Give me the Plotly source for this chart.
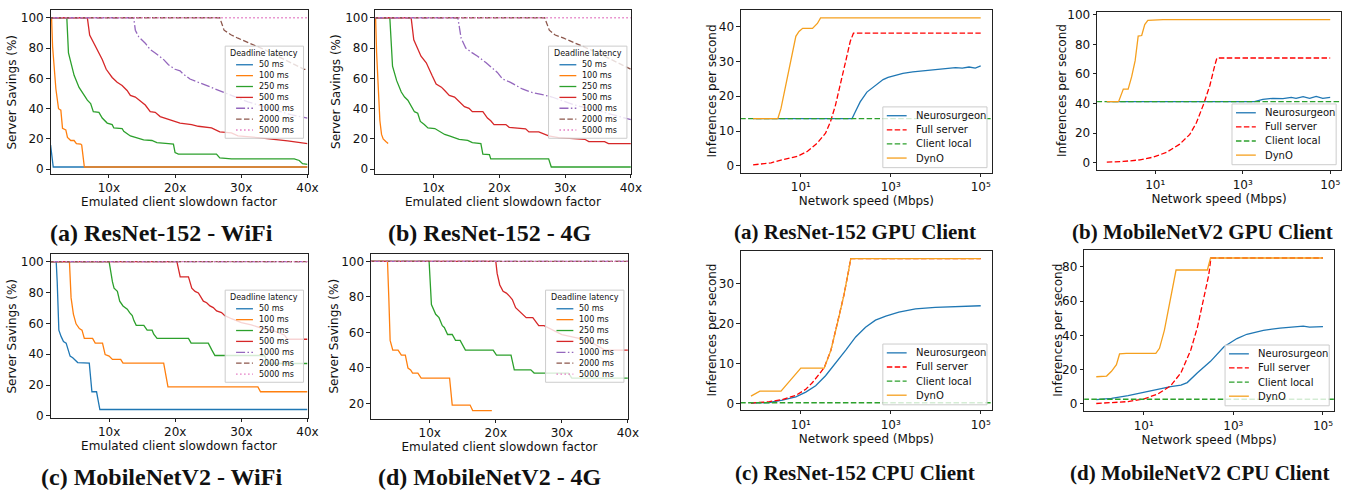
import plotly.graph_objects as go

W, H = 1366, 499

# ---------------- Data: server savings (%) vs emulated client slowdown factor ----------------
DEADLINES = ["50 ms", "100 ms", "250 ms", "500 ms", "1000 ms", "2000 ms", "5000 ms"]

# ResNet-152 - WiFi
rw_50 = [(1.2, 16), (1.6, 1.5), (40, 1.5)]
rw_100 = [(1.0, 100), (1.35, 100), (1.5, 81), (1.75, 66), (2.0, 53), (2.4, 40), (2.75, 39), (3.0, 27),
          (3.5, 26), (3.75, 21), (4.25, 19), (4.75, 19), (5.1, 17), (5.75, 16.6), (5.9, 16), (6.3, 1.5), (40, 1.5)]
rw_250 = [(1, 100), (3.65, 100), (3.9, 76.8), (4.25, 70), (4.75, 62), (5.5, 54), (6.25, 49), (6.75, 45.6),
          (7.25, 43.4), (7.65, 38), (8.5, 37.6), (9, 33.8), (9.75, 30.5), (10.5, 29.5), (10.75, 27.3), (12, 26.9),
          (12.25, 25), (12.75, 23.4), (13.25, 22), (14.5, 20.4), (15.25, 19.4), (16.5, 19), (17.25, 17.6),
          (19, 17), (19.75, 16.6), (20, 11), (20.5, 10), (26.25, 10), (26.75, 7.5), (28.5, 6.9), (38, 6.9),
          (38.75, 5.8), (39.25, 3.7), (40, 3.2)]
rw_500 = [(1, 100), (6.75, 100), (7.1, 88.6), (7.5, 85.4), (8.25, 79), (9, 72.5), (9.6, 66), (10.5, 60.6),
          (11.25, 57.4), (12, 55.3), (12.75, 52), (13.25, 48.8), (14, 47.7), (14.75, 45), (15.5, 42.4),
          (16.25, 38), (17, 37.6), (17.75, 34.8), (18.5, 33.8), (19.25, 32.7), (20.75, 30.5), (22.5, 29.5),
          (23.5, 28.4), (25.5, 27.3), (26.75, 24.7), (28.5, 24), (29.5, 22), (32.5, 20.9), (35, 19.8),
          (37, 18.7), (40, 17)]
rw_1000 = [(1, 100), (13.75, 100), (14, 91.8), (14.5, 87.5), (15.5, 83.2), (16.25, 79), (17, 76.8),
           (18.25, 72.5), (19, 69), (20, 66), (20.75, 65), (21.25, 62.8), (22.25, 59.6), (23.5, 57.4),
           (24.75, 55.3), (26, 52.7), (27, 51), (28.5, 48.8), (31, 44.5), (34.5, 40), (37.5, 36), (40, 33.8)]
rw_2000 = [(1, 100), (26.75, 100), (27.4, 91.8), (28.5, 88.6), (29.5, 86.5), (30.75, 84.3), (32, 82),
           (33.5, 79), (35.5, 74.6), (37.5, 70.3), (39.5, 66), (40, 66)]
rw_5000 = [(1, 100), (40, 100)]

# ResNet-152 - 4G
r4_50 = []
r4_100 = [(1.0, 100), (1.2, 100), (1.35, 77), (1.6, 49), (1.85, 32), (2.1, 23), (2.35, 20), (2.75, 18.3), (3.1, 17)]
r4_250 = [(1, 100), (3.36, 100), (3.77, 68), (4.4, 58.5), (5.1, 51), (5.6, 47.7), (6.1, 45.6), (6.6, 41.3),
          (7.1, 38), (7.6, 37), (8, 31.6), (8.6, 29.5), (9.15, 27.3), (10.2, 26.9), (10.9, 25.2), (11.7, 23),
          (12.4, 22), (13.2, 20.9), (13.9, 19.8), (15.2, 19.1), (15.9, 17.6), (17.2, 17), (17.5, 10),
          (18.5, 9.7), (18.7, 6.9), (27.5, 6.9), (27.9, 1.5), (40, 1.5)]
r4_500 = [(1, 100), (6.6, 100), (7, 85.4), (7.6, 79), (8.1, 74.6), (8.9, 70.3), (9.4, 66), (9.8, 61.7),
          (10.4, 56.3), (11.2, 54.2), (11.7, 52), (12.4, 48.8), (13.2, 47.7), (13.7, 45.6), (14.7, 41.3),
          (15.4, 40.2), (15.9, 38), (17.5, 38), (18.2, 33.8), (18.7, 32), (19.2, 29.5), (21, 29.5), (21.5, 27.7),
          (24, 26.7), (24.5, 24.7), (26, 24.7), (27.5, 22), (29, 20.9), (33, 19.8), (33.6, 18.3), (36, 18.3),
          (36.6, 17), (40, 17)]
r4_1000 = [(1, 100), (13.7, 100), (14.2, 86.5), (14.9, 80), (15.9, 76.8), (16.7, 74.6), (18, 70.3), (19.2, 66),
           (19.7, 63.9), (20.5, 59.6), (21.7, 57.4), (23.5, 53), (24.7, 51), (27, 48.8), (28, 47.7),
           (31.5, 42.4), (35.6, 38), (40, 32.7)]
r4_2000 = [(1, 100), (26.9, 100), (27.6, 91.8), (28.5, 88.6), (29.8, 86.5), (31, 84.3), (32, 82), (35, 76.8),
           (38, 70.3), (40, 66)]
r4_5000 = [(1, 100), (40, 100)]

# MobileNetV2 - WiFi
mw_50 = [(1, 100), (2.0, 100), (2.15, 87), (2.3, 66), (2.4, 55.6), (2.75, 51.4), (3.1, 48.2), (3.5, 47.2),
         (3.75, 43), (4.1, 38.8), (4.5, 37.7), (4.75, 36.7), (5.25, 34.6), (7.0, 34.2), (7.4, 15.7), (8.1, 15.7),
         (8.6, 4.2), (40, 4.2)]
mw_100 = [(1, 100), (4.0, 100), (4.25, 76.5), (4.6, 66), (5, 59.7), (5.5, 56.6), (5.9, 55.6), (6.25, 50.3),
          (7.5, 50.3), (7.9, 47.2), (9, 47.2), (9.4, 39.8), (10, 38.8), (10.5, 36.7), (11.75, 36.7), (12.1, 34.2),
          (18.25, 34.2), (18.9, 18.9), (32.5, 18.9), (32.9, 15.7), (40, 15.7)]
mw_250 = [(1, 100), (10, 100), (10.5, 87), (10.75, 82.8), (11.25, 80.7), (11.6, 74.4), (12.1, 71.3),
          (12.75, 69.2), (13.1, 67), (13.5, 65), (13.75, 61.8), (14.1, 58.7), (15.25, 58.7), (15.75, 55.6),
          (16.5, 55.6), (16.75, 53), (17.25, 50.3), (22, 50.3), (22.4, 47.2), (25, 47.2), (25.5, 43), (26, 39.2),
          (33.5, 39.2), (34, 34), (40, 34)]
mw_500 = [(1, 100), (20.25, 100), (20.75, 90.1), (22, 90.1), (22.5, 82.8), (23, 80.7), (23.5, 79.7),
          (24.25, 74.4), (24.75, 73.4), (25.25, 71.3), (25.75, 70.2), (26.25, 68.1), (27, 67), (27.5, 65),
          (28.5, 63), (30, 60.5), (31.5, 59), (33, 57), (35, 55), (36.5, 52.5), (37, 49.7), (40, 49.7)]
mw_1000 = [(1, 100), (40, 100)]
mw_2000 = [(1, 100), (40, 100)]
mw_5000 = [(1, 100), (40, 100)]

# MobileNetV2 - 4G
m4_50 = []
m4_100 = [(1, 100), (3.6, 100), (3.8, 79.4), (4.0, 55.5), (4.4, 50), (5.2, 50), (5.7, 47.2), (6.3, 47.2),
          (6.7, 39.9), (7.1, 38.9), (7.4, 37.1), (8.2, 37.1), (8.7, 34.3), (13.0, 34.3), (13.4, 19.1),
          (16.1, 19.1), (16.5, 16), (19.4, 16)]
m4_250 = [(1, 100), (9.9, 100), (10.25, 75.7), (10.9, 70.2), (11.4, 68.3), (11.9, 63.8), (12.2, 62.8),
          (12.7, 58.8), (13.4, 58.8), (13.9, 55.5), (14.6, 55.5), (15.4, 50), (19.6, 50), (20.1, 47.2),
          (22.3, 47.2), (22.8, 38.9), (25.3, 38.9), (25.8, 37.1), (31, 37.1), (31.5, 34.3), (40, 34.3)]
m4_500 = [(1, 100), (20, 100), (20.2, 93.2), (20.6, 86.7), (21.1, 83.1), (21.6, 82.1), (22.1, 80.3),
          (22.5, 78.5), (23, 73.9), (23.6, 72), (24.1, 70.2), (24.6, 68.3), (25.6, 68.3), (26.1, 65.6),
          (26.5, 63.8), (27.3, 63.8), (30, 58.8), (34, 55.5), (36.5, 50), (40, 50)]
m4_1000 = [(1, 100), (40, 100)]
m4_2000 = [(1, 100), (40, 100)]
m4_5000 = [(1, 100), (40, 100)]

SLOW_TICKS = [10, 20, 30, 40]
SLOW_TICKTEXT = ["10x", "20x", "30x", "40x"]

# ---------------- Data: inferences per second vs network speed (Mbps) ----------------
METHODS = ["Neurosurgeon", "Full server", "Client local", "DynO"]
NET_SPAN = [0.3, 300000]  # horizontal extent of the constant "Client local" reference

# ResNet-152 GPU client
rg_neuro = [(0.87, 13.6), (138, 13.6), (162, 15.5), (209, 18.4), (295, 21.2), (447, 23.1), (676, 24.8),
            (871, 25.4), (1318, 26.1), (1862, 26.6), (3090, 27.0), (5129, 27.3), (10000, 27.8), (19953, 28.0),
            (27542, 28.2), (38905, 28.1), (54954, 28.4), (75858, 28.1), (100000, 28.7)]
rg_full = [(0.87, 0.3), (2.19, 0.9), (4.27, 1.9), (8.51, 2.8), (14.1, 4.2), (23.4, 6.6), (35.5, 9.4),
           (45.7, 12.7), (58.9, 17.4), (75.9, 23.1), (97.7, 29.6), (126, 35.8), (148, 38.1), (100000, 38.1)]
rg_local = 13.6
rg_dyno = [(0.87, 13.6), (3.09, 13.6), (3.63, 16.5), (4.68, 23.1), (6.03, 30.6), (7.76, 37.2), (9.12, 38.6),
           (11.0, 39.5), (18.2, 39.5), (23.4, 40.9), (27.5, 42.5), (100000, 42.5)]

# MobileNetV2 GPU client
mg_neuro = [(0.78, 41.3), (1862, 41.3), (2884, 42.9), (4898, 43.6), (8318, 43.4), (12882, 44.2), (16596, 43.6),
            (23988, 44.7), (33884, 43.6), (47863, 44.9), (67608, 43.6), (100000, 44.2)]
mg_full = [(0.78, 0.4), (1.86, 0.9), (4.47, 2.0), (8.91, 3.8), (18.2, 7.1), (36.3, 12.6), (61.7, 19.2),
           (87.1, 27), (126, 39.2), (178, 52.4), (229, 65.7), (257, 70.8), (100000, 70.8)]
mg_local = 41.3
mg_dyno = [(0.78, 41.3), (1.45, 41.3), (1.86, 49.8), (2.4, 49.8), (2.88, 58), (3.47, 69), (4.07, 85.6),
           (4.9, 86), (5.75, 93.4), (6.76, 96.2), (15.1, 96.7), (100000, 96.7)]

# ResNet-152 CPU client
rc_neuro = [(0.78, 0.16), (2.0, 0.3), (3.89, 0.9), (7.76, 1.7), (12.9, 2.9), (21.4, 4.5), (35.5, 7.0),
            (60.3, 10.2), (100, 13.4), (166, 16.7), (275, 19.1), (457, 20.9), (776, 21.9), (1514, 22.9),
            (3548, 23.7), (9772, 24.1), (27542, 24.3), (100000, 24.5)]
rc_full = [(0.78, 0.16), (2.0, 0.5), (3.89, 1.05), (7.76, 2.1), (12.9, 3.6), (18.2, 5.3), (25.7, 7.4),
           (33.1, 9.0), (46.8, 13.4), (64.6, 19.9), (91.2, 27.2), (117, 33.6), (129, 36.3), (100000, 36.3)]
rc_local = 0.24
rc_dyno = [(0.78, 1.9), (1.23, 3.15), (3.63, 3.15), (10, 8.9), (33.1, 8.9), (46.8, 13.4), (64.6, 19.9),
           (91.2, 27.2), (117, 33.6), (129, 36.3), (100000, 36.3)]

# MobileNetV2 CPU client
mc_neuro = [(0.87, 2.5), (1.9, 3.2), (4.47, 4.8), (10.2, 6.7), (20.4, 8.6), (39.8, 10.1), (67.6, 10.9),
            (93.3, 12.4), (158, 18.1), (309, 24.8), (617, 33.3), (1202, 38.1), (1995, 40.6), (4677, 42.9),
            (10965, 44.2), (25704, 44.8), (36308, 45.3), (50119, 44.8), (100000, 45.1)]
mc_full = [(0.87, 0.2), (1.9, 0.6), (4.47, 1.3), (10.2, 2.9), (20.4, 5.7), (39.8, 10.5), (67.6, 18.1),
           (112, 31.4), (158, 44.8), (219, 61.9), (282, 75.2), (316, 85.1), (100000, 85.1)]
mc_local = 2.67
mc_dyno = [(0.87, 15.8), (1.48, 16.2), (1.9, 19.0), (2.45, 22.9), (2.88, 29.1), (4.07, 29.5), (18.6, 29.5),
           (22.4, 32.4), (28.8, 42.9), (39.8, 61.9), (52.5, 78.1), (263, 78.1), (309, 85.1), (100000, 85.1)]

NET_TICKS = [10, 1000, 100000]
NET_TICKTEXT = ["10\u00b9", "10\u00b3", "10\u2075"]

# ---------------- Styles ----------------
DL_STYLE = [("#1f77b4", "solid"), ("#ff7f0e", "solid"), ("#2ca02c", "solid"), ("#d62728", "solid"),
            ("#9467bd", "9px,2.4px,1.5px,2.4px"), ("#8c564b", "5.5px,2.4px"), ("#e377c2", "1.5px,2.5px")]
M_STYLE = [("#1f77b4", "solid"), ("#ff0000", "5.5px,2.4px"), ("#2ca02c", "5.5px,2.4px"), ("#f5a01e", "solid")]

TICK_FONT = dict(family="DejaVu Sans", size=12, color="#111")
TITLE_FONT = dict(family="DejaVu Sans", size=12, color="#111")
CAP_FONT = "Liberation Serif"

# panel layout in pixels: (left, top, right, bottom); ytitle_x = centre of rotated y title
panels = [
    dict(box=(51, 6, 310, 173), kind="slow", series=[rw_50, rw_100, rw_250, rw_500, rw_1000, rw_2000, rw_5000],
         xr=[1.2, 40], yr=[-2.8, 105.2], yt=[0, 20, 40, 60, 80, 100], ytitle_x=12,
         cap="(a) ResNet-152 - WiFi", cap_xy=(163, 234)),
    dict(box=(378, 6, 636, 173), kind="slow", series=[r4_50, r4_100, r4_250, r4_500, r4_1000, r4_2000, r4_5000],
         xr=[1.1, 40], yr=[-2.8, 105.2], yt=[0, 20, 40, 60, 80, 100], ytitle_x=338,
         cap="(b) ResNet-152 - 4G", cap_xy=(494, 234)),
    dict(box=(51, 255, 310, 422), kind="slow", series=[mw_50, mw_100, mw_250, mw_500, mw_1000, mw_2000, mw_5000],
         xr=[1.15, 40], yr=[-1.0, 105.0], yt=[0, 20, 40, 60, 80, 100], ytitle_x=12,
         cap="(c) MobileNetV2 - WiFi", cap_xy=(163, 483)),
    dict(box=(374, 255, 633, 423), kind="slow", series=[m4_50, m4_100, m4_250, m4_500, m4_1000, m4_2000, m4_5000],
         xr=[1.1, 40], yr=[11.5, 104.2], yt=[20, 40, 60, 80, 100], ytitle_x=337,
         cap="(d) MobileNetV2 - 4G", cap_xy=(494, 483)),
    dict(box=(747, 6, 1000, 172), kind="net", series=[rg_neuro, rg_full, rg_local, rg_dyno],
         yr=[-1.9, 44.8], yt=[0, 10, 20, 30, 40], ytitle_x=718,
         cap="(a) ResNet-152 GPU Client", cap_xy=(862, 233)),
    dict(box=(1106, 8, 1352, 169), kind="net", series=[mg_neuro, mg_full, mg_local, mg_dyno],
         yr=[-4.6, 102], yt=[0, 20, 40, 60, 80, 100], ytitle_x=1070,
         cap="(b) MobileNetV2 GPU Client", cap_xy=(1212, 233)),
    dict(box=(747, 252, 1000, 414), kind="net", series=[rc_neuro, rc_full, rc_local, rc_dyno],
         yr=[-1.5, 38.2], yt=[0, 10, 20, 30], ytitle_x=718,
         cap="(c) ResNet-152 CPU Client", cap_xy=(862, 479)),
    dict(box=(1093, 251, 1345, 415), kind="net", series=[mc_neuro, mc_full, mc_local, mc_dyno],
         yr=[-4.0, 89.8], yt=[0, 20, 40, 60, 80], ytitle_x=1067,
         cap="(d) MobileNetV2 CPU Client", cap_xy=(1210, 479)),
]


def fx(p):
    return p / W


def fy(p):
    return 1 - p / H


fig = go.Figure()
layout = dict(width=W, height=H, autosize=False, margin=dict(l=0, r=0, t=0, b=0), paper_bgcolor="white",
              plot_bgcolor="white", showlegend=False)
shapes, annotations = [], []

for i, p in enumerate(panels):
    n = i + 1
    sx = "" if n == 1 else str(n)
    L, T, R, B = p["box"]
    axis_base = dict(showline=True, linecolor="#222", linewidth=1, mirror=True, ticks="outside",
                     ticklen=3.5, tickwidth=1, tickcolor="#222", showgrid=False, zeroline=False,
                     tickfont=TICK_FONT, title_font=TITLE_FONT)
    if p["kind"] == "slow":
        xa = dict(axis_base, domain=[fx(L), fx(R)], range=p["xr"], tickvals=SLOW_TICKS,
                  ticktext=SLOW_TICKTEXT, title=dict(text="Emulated client slowdown factor", standoff=3),
                  anchor="y" + sx)
        ytitle = "Server Savings (%)"
        for name, pts, (col, dash) in zip(DEADLINES, p["series"], DL_STYLE):
            fig.add_trace(go.Scatter(x=[a for a, _ in pts], y=[b for _, b in pts], mode="lines", name=name,
                                     line=dict(color=col, width=1.3, dash=dash),
                                     xaxis="x" + sx, yaxis="y" + sx))
        # legend box (matplotlib style, centre right)
        lw, lh = 79, 94
        lx1 = R - 4
        lx0 = lx1 - lw
        ly0 = T + 37
        ly1 = ly0 + lh
        shapes.append(dict(type="rect", xref="paper", yref="paper", x0=fx(lx0), x1=fx(lx1), y0=fy(ly1),
                           y1=fy(ly0), fillcolor="rgba(255,255,255,0.8)", line=dict(color="#cccccc", width=1),
                           layer="above"))
        annotations.append(dict(xref="paper", yref="paper", x=fx((lx0 + lx1) / 2), y=fy(ly0 + 8),
                                text="Deadline latency", showarrow=False, xanchor="center", yanchor="middle",
                                font=dict(family="DejaVu Sans", size=8, color="#111")))
        for k, (name, (col, dash)) in enumerate(zip(DEADLINES, DL_STYLE)):
            yy = ly0 + 19 + 11.1 * k
            shapes.append(dict(type="line", xref="paper", yref="paper", x0=fx(lx0 + 11), x1=fx(lx0 + 28),
                               y0=fy(yy), y1=fy(yy), line=dict(color=col, width=1.3, dash=dash), layer="above"))
            annotations.append(dict(xref="paper", yref="paper", x=fx(lx0 + 32), y=fy(yy), text=name,
                                    showarrow=False, xanchor="left", yanchor="middle",
                                    font=dict(family="DejaVu Sans", size=8, color="#111")))
    else:
        xa = dict(axis_base, type="log", domain=[fx(L), fx(R)], range=[-0.33, 5.25], tickvals=NET_TICKS,
                  ticktext=NET_TICKTEXT, title=dict(text="Network speed (Mbps)", standoff=2),
                  anchor="y" + sx)
        ytitle = "Inferences per second"
        for name, s, (col, dash) in zip(METHODS, p["series"], M_STYLE):
            if isinstance(s, (int, float)):
                xs, ys = NET_SPAN, [s, s]
            else:
                xs, ys = [a for a, _ in s], [b for _, b in s]
            fig.add_trace(go.Scatter(x=xs, y=ys, mode="lines", name=name,
                                     line=dict(color=col, width=1.3, dash=dash),
                                     xaxis="x" + sx, yaxis="y" + sx))
        lw, lh = 105, 62
        lx1 = R - 5
        lx0 = lx1 - lw
        ly1 = B - 5
        ly0 = ly1 - lh
        shapes.append(dict(type="rect", xref="paper", yref="paper", x0=fx(lx0), x1=fx(lx1), y0=fy(ly1),
                           y1=fy(ly0), fillcolor="rgba(255,255,255,0.8)", line=dict(color="#cccccc", width=1),
                           layer="above"))
        for k, (name, (col, dash)) in enumerate(zip(METHODS, M_STYLE)):
            yy = ly0 + 9 + 14.4 * k
            shapes.append(dict(type="line", xref="paper", yref="paper", x0=fx(lx0 + 4), x1=fx(lx0 + 24),
                               y0=fy(yy), y1=fy(yy), line=dict(color=col, width=1.3, dash=dash), layer="above"))
            annotations.append(dict(xref="paper", yref="paper", x=fx(lx0 + 31), y=fy(yy), text=name,
                                    showarrow=False, xanchor="left", yanchor="middle",
                                    font=dict(family="DejaVu Sans", size=10, color="#111")))
    ya = dict(axis_base, domain=[fy(B), fy(T)], range=p["yr"], tickvals=p["yt"], anchor="x" + sx)
    layout["xaxis" + sx] = xa
    layout["yaxis" + sx] = ya
    # rotated y-axis title
    annotations.append(dict(xref="paper", yref="paper", x=fx(p["ytitle_x"]), y=fy((T + B) / 2), text=ytitle,
                            textangle=-90, showarrow=False, xanchor="center", yanchor="middle",
                            font=TITLE_FONT))
    cx, cy = p["cap_xy"]
    annotations.append(dict(xref="paper", yref="paper", x=fx(cx), y=fy(cy), text="<b>" + p["cap"] + "</b>",
                            showarrow=False, xanchor="center", yanchor="middle",
                            font=dict(family=CAP_FONT, size=24 if p["kind"] == "slow" else 21, color="#111")))

layout["shapes"] = shapes
layout["annotations"] = annotations
fig.update_layout(**layout)

fig.write_html(
    "out.html",
    config={"displayModeBar": False, "responsive": False},
    post_script=("document.documentElement.style.margin='0';document.documentElement.style.overflow='hidden';"
                 "document.body.style.margin='0';document.body.style.padding='0';"
                 "document.body.style.overflow='hidden';"),
)
